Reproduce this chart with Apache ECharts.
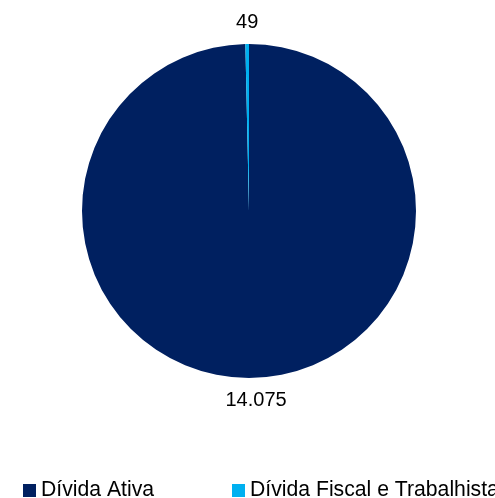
<!DOCTYPE html>
<html>
<head>
<meta charset="utf-8">
<script src="https://cdn.jsdelivr.net/npm/echarts@6/dist/echarts.min.js"></script>
<style>
  html, body { margin: 0; padding: 0; background: #fff; }
  #chart { width: 495px; height: 498px; }
</style>
</head>
<body>
<div id="chart"></div>
<script>
var categories = ['Dívida Ativa', 'Dívida Fiscal e Trabalhista'];
var values = [14075, 49];
var colors = ['#002060', '#00B0F0'];

var myChart = echarts.init(document.getElementById('chart'));

var legendBase = {
    top: 475,
    icon: 'rect',
    itemWidth: 13,
    itemHeight: 13,
    textStyle: { fontSize: 21.2, color: '#000' }
};

var option = {
    animation: false,
    color: colors,
    textStyle: { fontFamily: 'Liberation Sans, Arial, sans-serif' },
    legend: [
        Object.assign({ data: [categories[0]], left: 18 }, legendBase),
        Object.assign({ data: [categories[1]], left: 227 }, legendBase)
    ],
    series: [{
        type: 'pie',
        center: [249, 211],
        radius: [0, 167],
        startAngle: 90,
        clockwise: true,
        data: categories.map(function (name, i) {
            return { name: name, value: values[i] };
        }),
        label: {
            show: true,
            position: 'outside',
            fontSize: 20,
            color: '#000',
            formatter: function (p) {
                return p.value.toLocaleString('de-DE');
            }
        },
        labelLine: { show: false, length: 22, length2: 0 },
        labelLayout: function (params) {
            // thin slice: centre its label over the sliver
            if (params.dataIndex === 1) {
                return { x: params.rect.x + params.rect.width / 2, align: 'center' };
            }
            return { align: 'center' };
        }
    }]
};

myChart.setOption(option);
</script>
</body>
</html>
